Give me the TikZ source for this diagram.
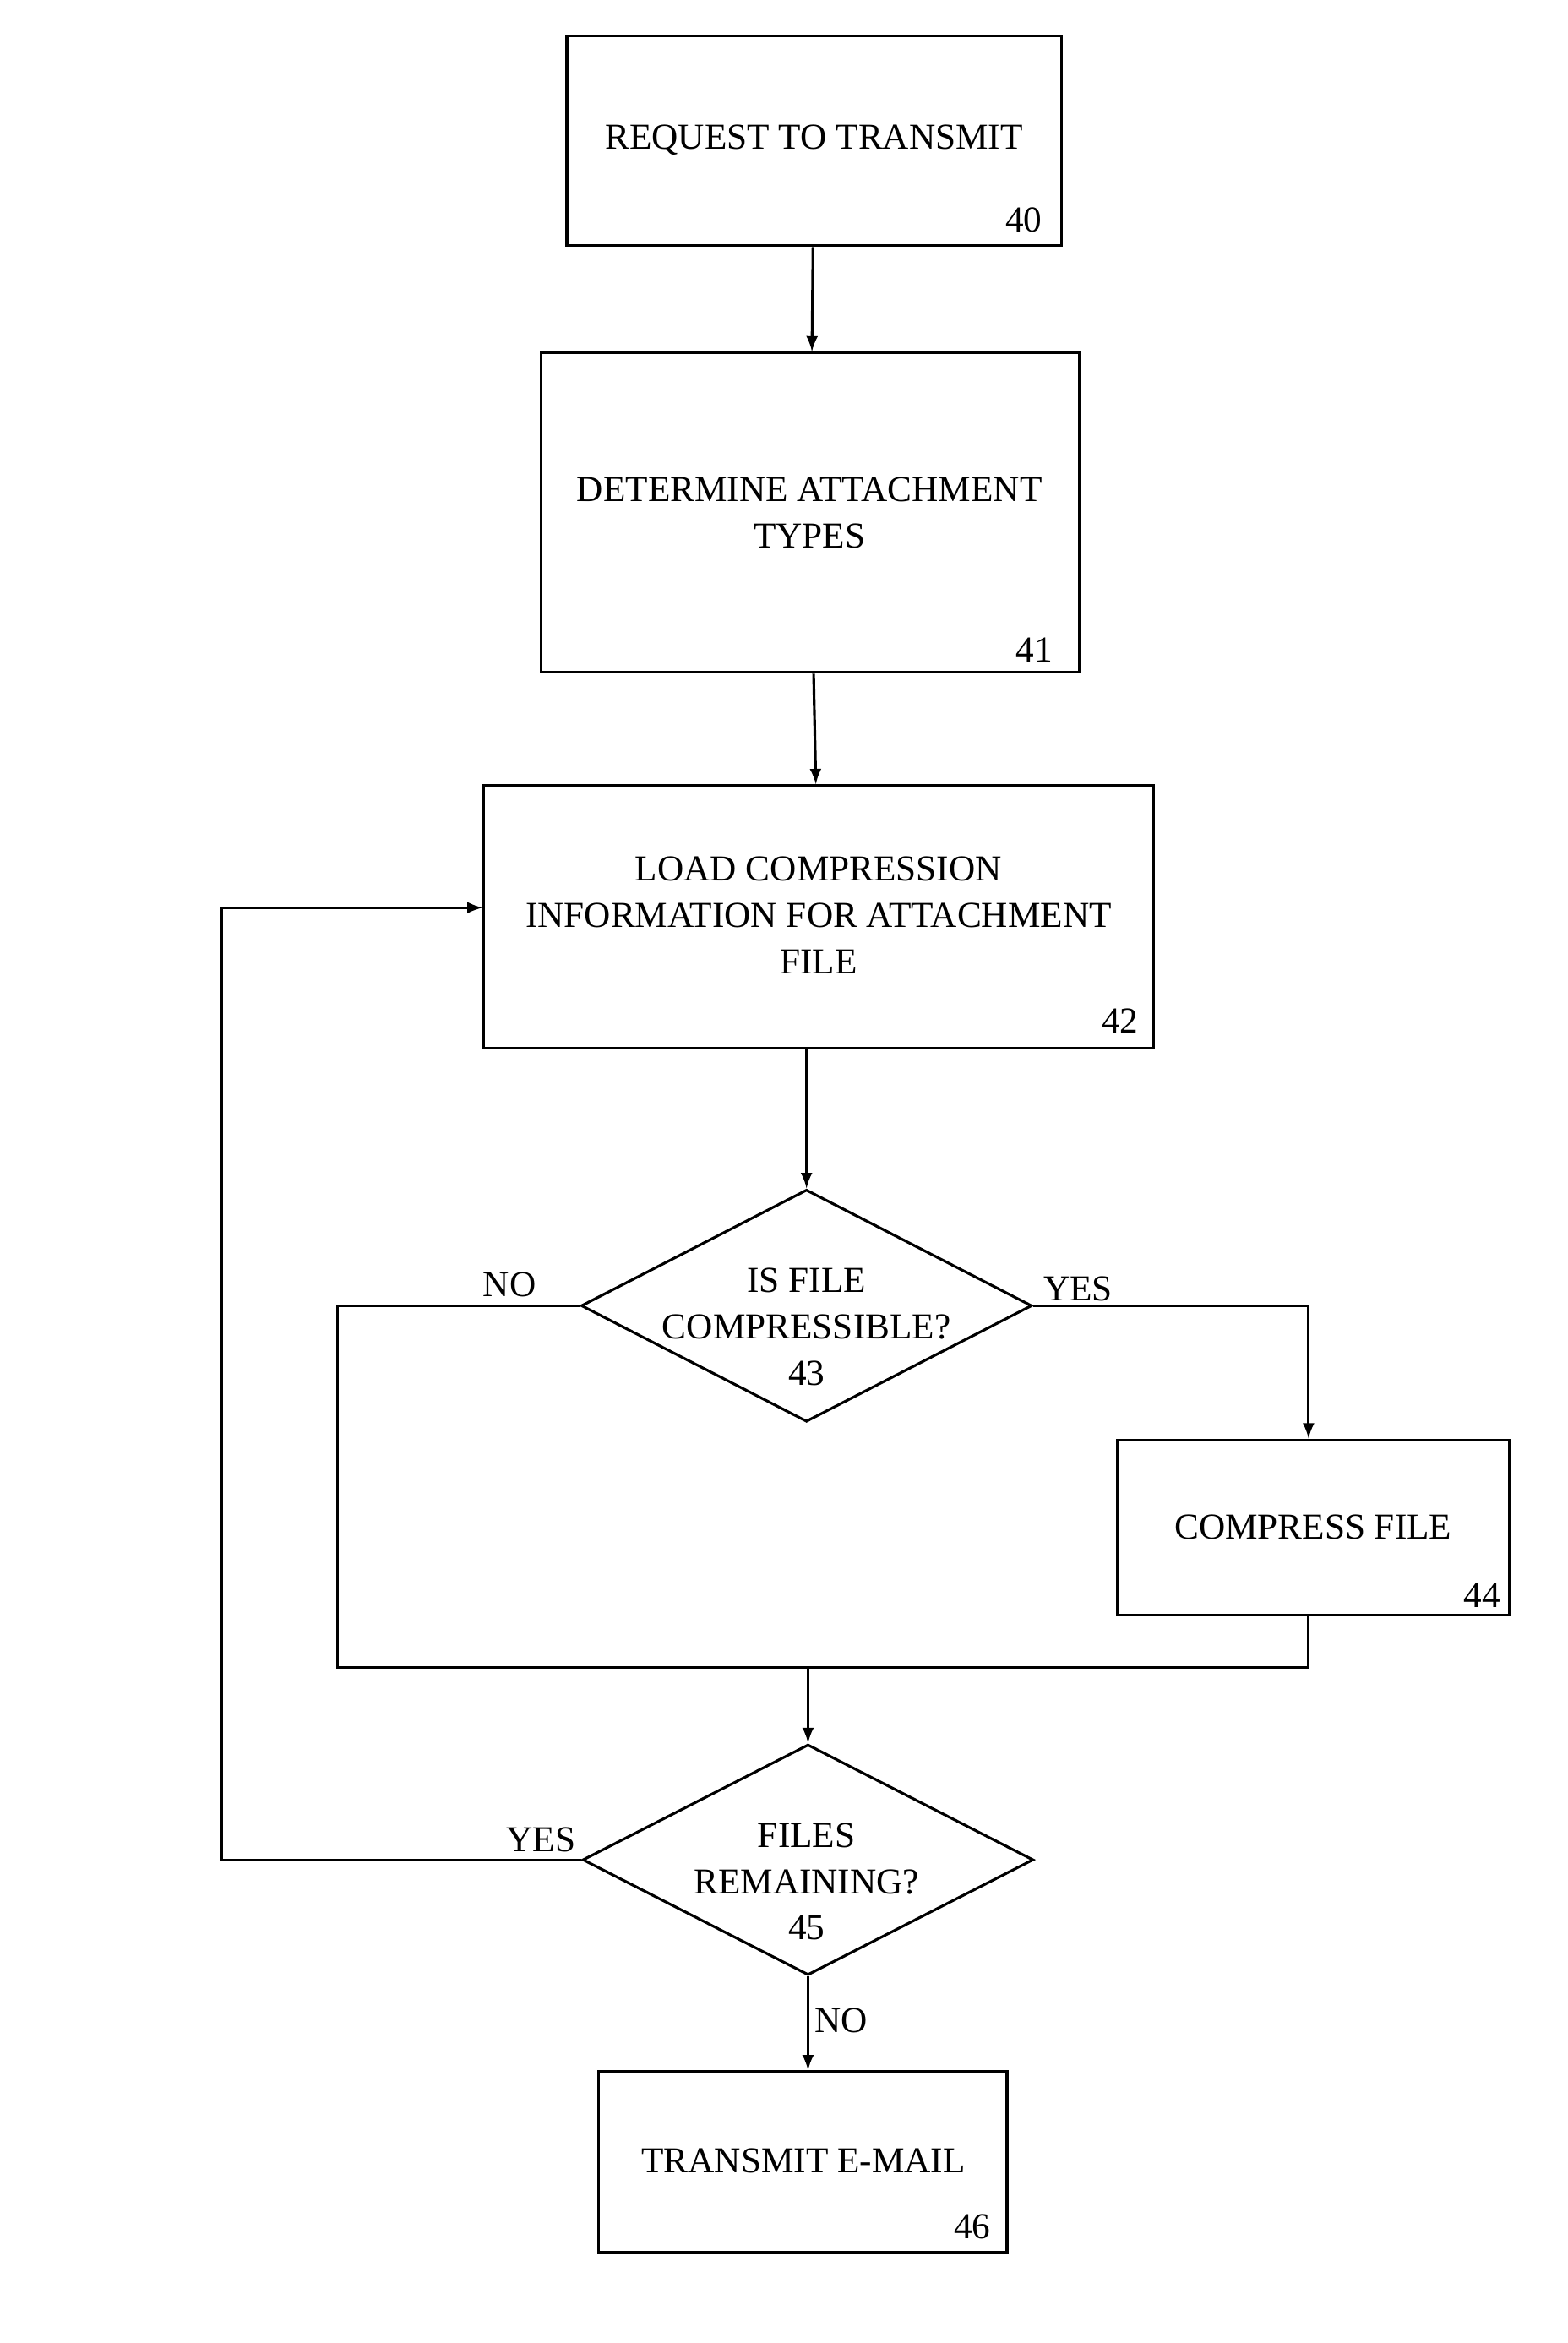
\documentclass[tikz,border=0pt]{standalone}
\usepackage{fontspec}
\setmainfont{Liberation Serif}
\usetikzlibrary{arrows,positioning,shapes.geometric}
\pgfdeclarelayer{edgelayer}
\pgfdeclarelayer{nodelayer}
\pgfsetlayers{edgelayer,nodelayer,main}
\tikzset{font=\fontsize{13.8}{17.5}\selectfont}
\tikzstyle{none}=[inner sep=0pt]
\tikzstyle{process}=[rectangle,draw=black,line width=1pt,inner sep=0pt,align=center]
\tikzstyle{test}=[diamond,draw=black,line width=1pt,inner sep=0pt]
\tikzstyle{flow}=[->, >=latex, line width=1pt]
\tikzstyle{simple}=[-,line width=1pt]
\begin{document}
\begin{tikzpicture}[x=0.02cm,y=-0.02cm]
	\useasboundingbox (0,0) rectangle (1040,1554);
	\begin{pgfonlayer}{nodelayer}
		\node [style=process, minimum width=328*0.02cm, minimum height=139*0.02cm] (B40) at (540,93.5) {};
		\node [style=none] (T40) at (540,93) {REQUEST TO TRANSMIT};
		\node [style=none] (N40) at (679,146) {40};
		\node [style=process, minimum width=357*0.02cm, minimum height=212*0.02cm] (B41) at (537.5,340) {};
		\node [style=none, align=center] (T41) at (537,340) {DETERMINE ATTACHMENT\\TYPES};
		\node [style=none] (N41) at (686,431) {41};
		\node [style=process, minimum width=444*0.02cm, minimum height=174*0.02cm] (B42) at (543,608) {};
		\node [style=none, align=center] (T42) at (543,607) {LOAD COMPRESSION\\INFORMATION FOR ATTACHMENT\\FILE};
		\node [style=none] (N42) at (743,677) {42};
		\node [style=test, minimum width=299*0.02cm, minimum height=154*0.02cm] (D43) at (535,866) {};
		\node [style=none, align=center] (T43) at (535,880) {IS FILE\\COMPRESSIBLE?\\43};
		\node [style=none] (No43) at (338,852) {NO};
		\node [style=none] (Yes43) at (715,855) {YES};
		\node [style=process, minimum width=260*0.02cm, minimum height=116*0.02cm] (B44) at (871,1013) {};
		\node [style=none] (T44) at (871,1013) {COMPRESS FILE};
		\node [style=none] (N44) at (983,1058) {44};
		\node [style=test, minimum width=299*0.02cm, minimum height=153*0.02cm] (D45) at (536,1233.5) {};
		\node [style=none, align=center] (T45) at (535,1248) {FILES\\REMAINING?\\45};
		\node [style=none] (Yes45) at (359,1220) {YES};
		\node [style=none] (No45) at (558,1340) {NO};
		\node [style=process, minimum width=271*0.02cm, minimum height=120*0.02cm] (B46) at (532.5,1434) {};
		\node [style=none] (T46) at (533,1433) {TRANSMIT E-MAIL};
		\node [style=none] (N46) at (645,1477) {46};
		\coordinate (NL) at (224,866);
		\coordinate (NB) at (224,1106);
		\coordinate (YR) at (868,866);
		\coordinate (YB) at (868,1106);
		\coordinate (M) at (536,1106);
		\coordinate (LB) at (147,1233.5);
		\coordinate (LT) at (147,602);
	\end{pgfonlayer}
	\begin{pgfonlayer}{edgelayer}
		\draw [style=flow] (B40) to (B41);
		\draw [style=flow] (B41) to (B42);
		\draw [style=flow] (B42.south -| D43) to (D43.north);
		\draw [style=simple] (D43.west) to (NL) to (NB) to (YB) to (B44.south -| YB);
		\draw [style=flow] (D43.east) to (YR) to (B44.north -| YR);
		\draw [style=flow] (M) to (D45.north);
		\draw [style=flow] (D45.west) to (LB) to (LT) to (B42.west |- LT);
		\draw [style=flow] (D45.south) to (B46.north -| D45);
	\end{pgfonlayer}
\end{tikzpicture}
\end{document}
